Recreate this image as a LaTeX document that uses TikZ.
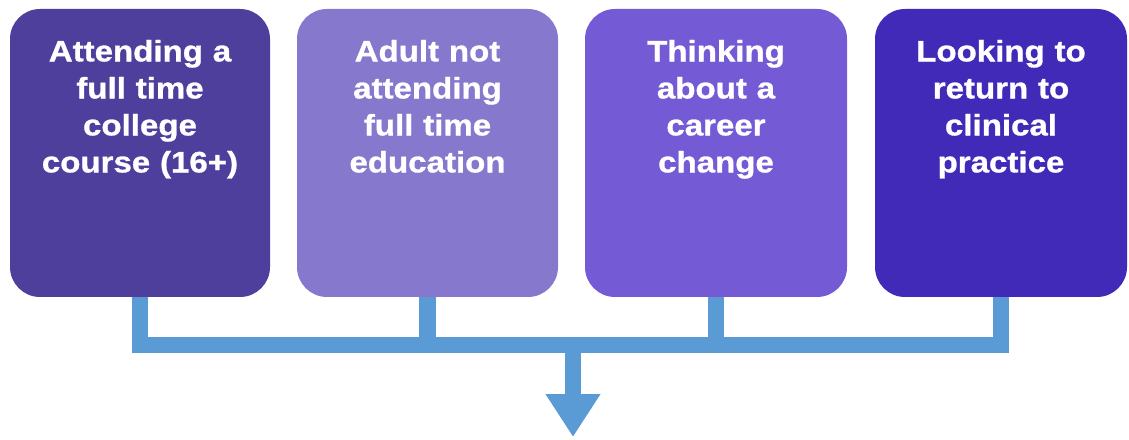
\documentclass[tikz,border=0pt]{standalone}
\usepackage{fontspec}
\setmainfont{Liberation Sans}[FakeStretch=1.12,FakeBold=1]
\usetikzlibrary{positioning,arrows.meta}

\definecolor{boxone}{RGB}{79,63,156}
\definecolor{boxtwo}{RGB}{134,120,204}
\definecolor{boxthree}{RGB}{117,90,214}
\definecolor{boxfour}{RGB}{66,42,184}
\definecolor{linkblue}{RGB}{91,155,213}

\begin{document}
\begin{tikzpicture}[x=1pt,y=1pt]
\useasboundingbox (0,0) rectangle (1129,439);

\begin{scope}[every node/.style={rectangle,rounded corners=30pt,minimum height=288pt,inner sep=0pt}]
    \node[fill=boxone,minimum width=260pt] (att) at (140,286){};
    \node[fill=boxtwo,minimum width=261pt] (adu) at (427.5,286){};
    \node[fill=boxthree,minimum width=262pt] (thi) at (716,286){};
    \node[fill=boxfour,minimum width=252pt] (ret) at (1001,286){};
\end{scope}

\begin{scope}[every node/.style={text=white,font=\bfseries\fontsize{29.5}{37}\selectfont,align=center,text width=250pt,inner sep=0pt}]
    \node[below=31pt of att.north] (att-txt){Attending a\\full time\\college\\course (16+)};
    \node[below=31pt of adu.north] (adu-txt){Adult not\\attending\\full time\\education};
    \node[below=31pt of thi.north] (thi-txt){Thinking\\about a\\career\\change};
    \node[below=31pt of ret.north] (ret-txt){Looking to\\return to\\clinical\\practice};
\end{scope}

    \coordinate (split) at (573,94);
    \coordinate (tip) at (573,2);

\begin{scope}[every path/.style={draw=linkblue,line width=16.5pt,line join=miter}]
    \path (att.south) -- (att.south |- split) -- (ret.south |- split) -- (ret.south);
    \path (adu.south) -- (adu.south |- split);
    \path (thi.south) -- (thi.south |- split);
    \path [-{Triangle[width=52pt,length=43pt]}] (split) -- (tip);
\end{scope}

\end{tikzpicture}
\end{document}
